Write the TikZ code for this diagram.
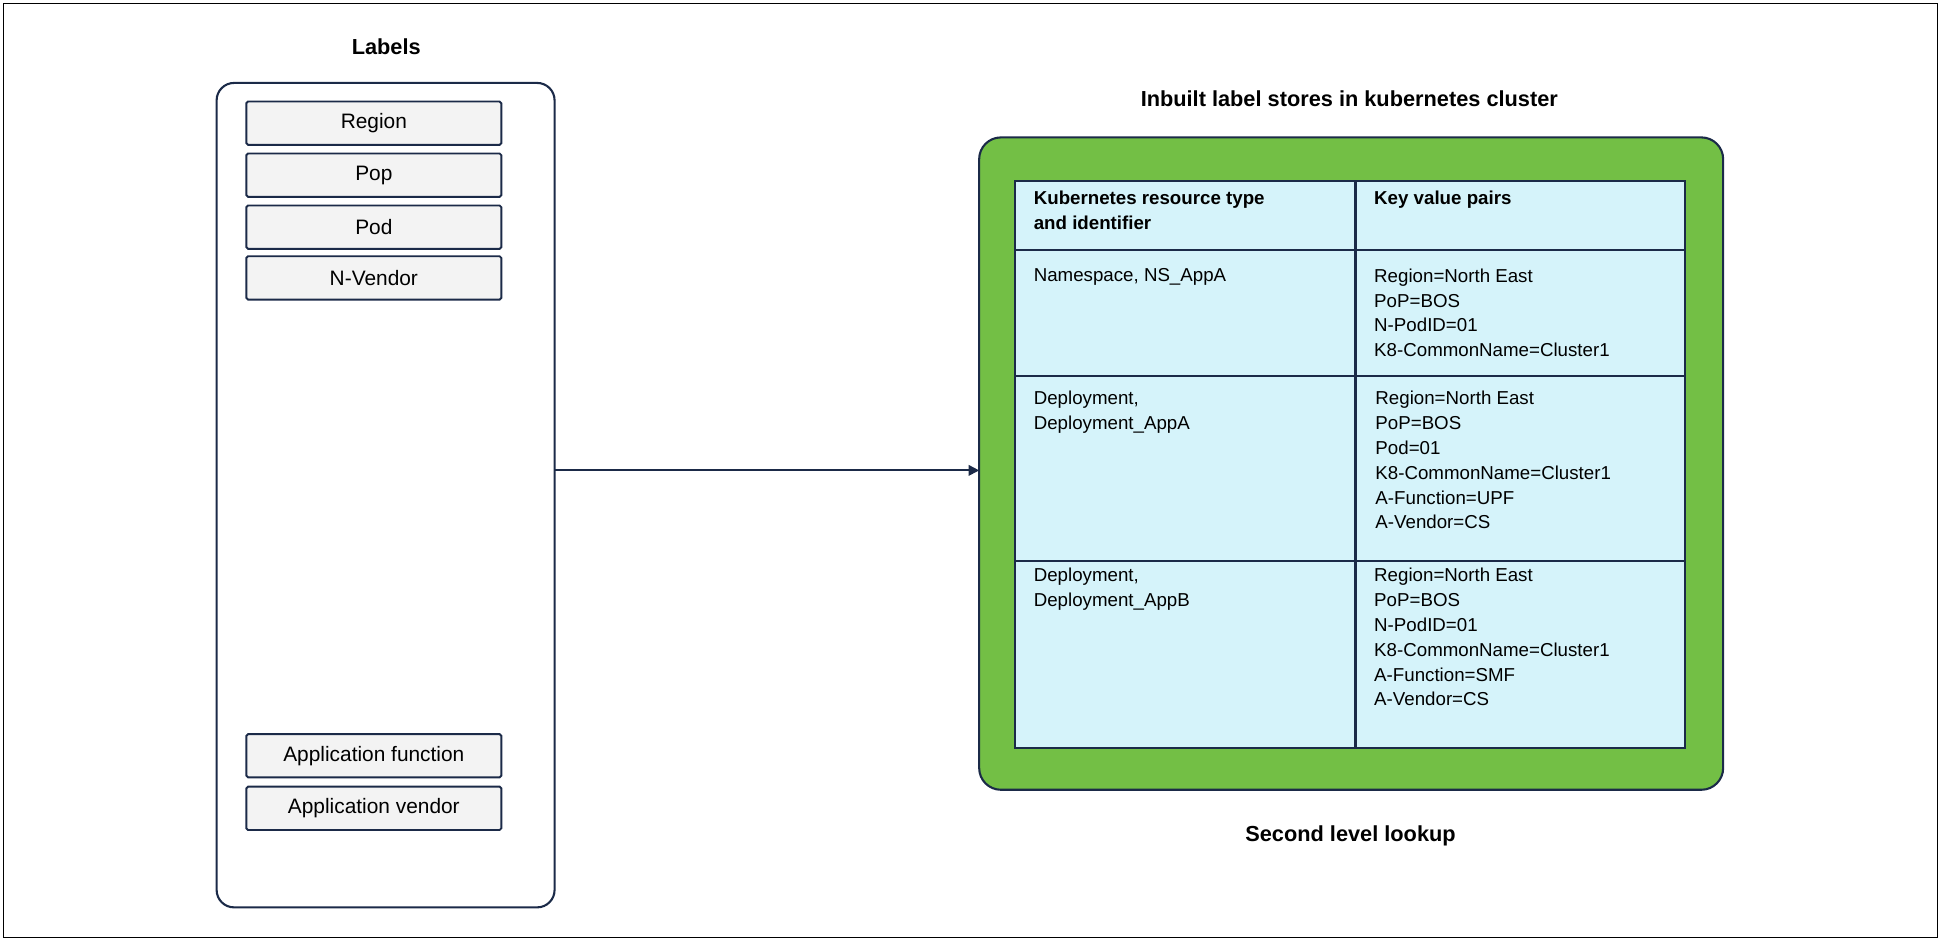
\documentclass[tikz,border=0pt]{standalone}
\usepackage{fontspec}
\setmainfont{Liberation Sans}
\usetikzlibrary{arrows.meta}
\definecolor{navy}{HTML}{1B2A48}
\definecolor{lgray}{HTML}{F3F3F3}
\definecolor{grn}{HTML}{73BF45}
\definecolor{cyan1}{HTML}{D5F3FA}
\begin{document}
\begin{tikzpicture}[x=0.5mm,y=-0.5mm,
  lab/.style={draw=navy,line width=2.2pt,fill=lgray,rounded corners=2pt,minimum width=103mm,minimum height=17.5mm,inner sep=0pt,font=\fontsize{24}{28}\selectfont},
  title/.style={font=\fontsize{25}{30}\selectfont\bfseries},
  cell/.style={anchor=north west,align=left,inner sep=0pt,font=\fontsize{21.5}{28.5}\selectfont}]
\draw[black,line width=1pt] (3,3) rectangle (1565,757);
\useasboundingbox (0,0) rectangle (1568,761);
\node[title] (tl) at (312,38) {Labels};
\draw[navy,line width=2.4pt,rounded corners=20] (175,67) rectangle (448,733);
\coordinate (lbR) at (448,380);
\node[lab] (r) at (302,99.5) {Region};
\node[lab] (p) at (302,141.5) {Pop};
\node[lab] (pd) at (302,183.5) {Pod};
\node[lab] (nv) at (302,224.5) {N-Vendor};
\node[lab] (af) at (302,610.5) {Application function};
\node[lab] (av) at (302,653) {Application vendor};
\node[title] (t2) at (1090,80) {Inbuilt label stores in kubernetes cluster};
\draw[navy,line width=2.4pt,fill=grn,rounded corners=25] (791,111) rectangle (1392,638);
\coordinate (gL) at (791,380);
\draw[navy,line width=2.6pt,fill=cyan1] (820,146) rectangle (1361,604);
\draw[navy,line width=2.6pt] (1095,146) -- (1095,604);
\foreach \y in {202,304,453} \draw[navy,line width=2.6pt] (820,\y) -- (1361,\y);
\draw[navy,line width=2.2pt,-{Triangle[length=12pt,width=12pt]}] (lbR) -- (gL);
\node[cell,font=\fontsize{21.5}{28.5}\selectfont\bfseries] (h1) at (835,154) {Kubernetes resource type\\and identifier};
\node[cell,font=\fontsize{21.5}{28.5}\selectfont\bfseries] (h2) at (1110,154) {Key value pairs};
\node[cell] (a1) at (835,217) {Namespace, NS\_AppA};
\node[cell] (a2) at (1110,217) {Region=North East\\PoP=BOS\\N-PodID=01\\K8-CommonName=Cluster1};
\node[cell] (b1) at (835,316) {Deployment,\\Deployment\_AppA};
\node[cell] (b2) at (1111,316) {Region=North East\\PoP=BOS\\Pod=01\\K8-CommonName=Cluster1\\A-Function=UPF\\A-Vendor=CS};
\node[cell] (c1) at (835,459) {Deployment,\\Deployment\_AppB};
\node[cell] (c2) at (1110,459) {Region=North East\\PoP=BOS\\N-PodID=01\\K8-CommonName=Cluster1\\A-Function=SMF\\A-Vendor=CS};
\node[title] (t3) at (1091,675) {Second level lookup};
\end{tikzpicture}
\end{document}
